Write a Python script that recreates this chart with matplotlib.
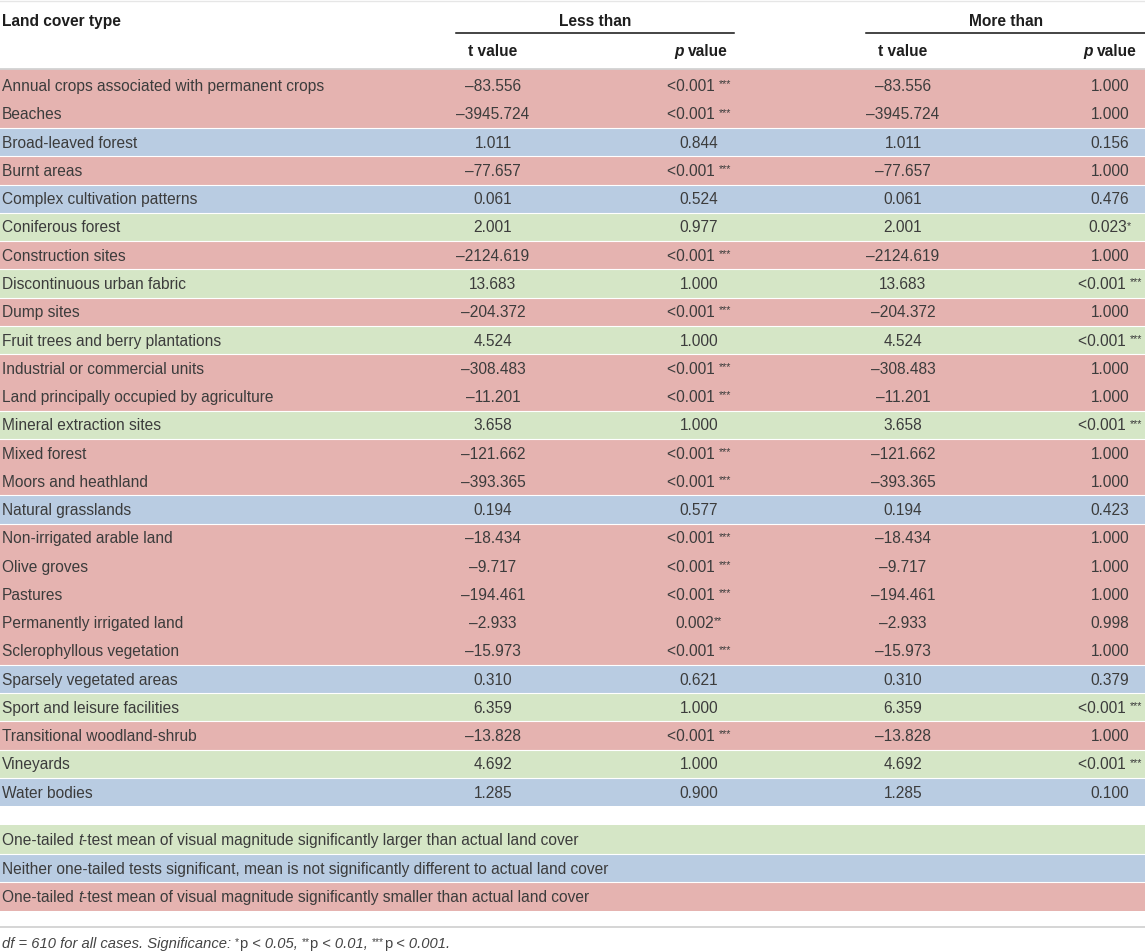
import matplotlib
matplotlib.use("Agg")
import matplotlib.pyplot as plt

# ---------------- data ----------------
land_cover = [
    "Annual crops associated with permanent crops", "Beaches", "Broad-leaved forest",
    "Burnt areas", "Complex cultivation patterns", "Coniferous forest",
    "Construction sites", "Discontinuous urban fabric", "Dump sites",
    "Fruit trees and berry plantations", "Industrial or commercial units",
    "Land principally occupied by agriculture", "Mineral extraction sites",
    "Mixed forest", "Moors and heathland", "Natural grasslands",
    "Non-irrigated arable land", "Olive groves", "Pastures",
    "Permanently irrigated land", "Sclerophyllous vegetation",
    "Sparsely vegetated areas", "Sport and leisure facilities",
    "Transitional woodland-shrub", "Vineyards", "Water bodies",
]
category = ["R", "R", "B", "R", "B", "G", "R", "G", "R", "G", "R", "R", "G",
            "R", "R", "B", "R", "R", "R", "R", "R", "B", "G", "R", "G", "B"]
t_values = [-83.556, -3945.724, 1.011, -77.657, 0.061, 2.001, -2124.619, 13.683,
            -204.372, 4.524, -308.483, -11.201, 3.658, -121.662, -393.365, 0.194,
            -18.434, -9.717, -194.461, -2.933, -15.973, 0.310, 6.359, -13.828,
            4.692, 1.285]
less_p = ["<0.001", "<0.001", "0.844", "<0.001", "0.524", "0.977", "<0.001", "1.000",
          "<0.001", "1.000", "<0.001", "<0.001", "1.000", "<0.001", "<0.001", "0.577",
          "<0.001", "<0.001", "<0.001", "0.002", "<0.001", "0.621", "1.000", "<0.001",
          "1.000", "0.900"]
less_sig = ["***", "***", "", "***", "", "", "***", "", "***", "", "***", "***", "",
            "***", "***", "", "***", "***", "***", "**", "***", "", "", "***", "", ""]
more_p = ["1.000", "1.000", "0.156", "1.000", "0.476", "0.023", "1.000", "<0.001",
          "1.000", "<0.001", "1.000", "1.000", "<0.001", "1.000", "1.000", "0.423",
          "1.000", "1.000", "1.000", "0.998", "1.000", "0.379", "<0.001", "1.000",
          "<0.001", "0.100"]
more_sig = ["", "", "", "", "", "*", "", "***", "", "***", "", "", "***", "", "", "",
            "", "", "", "", "", "", "***", "", "***", ""]
legend_cats = ["G", "B", "R"]
legend_text = [
    [("One-tailed ", "n"), ("t", "i"), ("-test mean of visual magnitude significantly larger than actual land cover", "n")],
    [("Neither one-tailed tests significant, mean is not significantly different to actual land cover", "n")],
    [("One-tailed ", "n"), ("t", "i"), ("-test mean of visual magnitude significantly smaller than actual land cover", "n")],
]
group_headers = ["Less than", "More than"]

# ---------------- style ----------------
colors = {"R": "#E5B3B0", "B": "#B9CCE2", "G": "#D5E6C6"}
FONT = ["Liberation Sans", "DejaVu Sans"]
TXT = "#3c3c3c"
HDR = "#1e1e1e"
FS = 11.2
W, H = 1145, 952

fig = plt.figure(figsize=(W / 100, H / 100), dpi=100)
ax = fig.add_axes([0, 0, 1, 1])
ax.set_xlim(0, W)
ax.set_ylim(H, 0)
ax.axis("off")
renderer = fig.canvas.get_renderer()


def style(kind, size=FS, color=TXT):
    d = dict(family=FONT, fontsize=size, color=color)
    if kind == "i":
        d["style"] = "italic"
    elif kind == "b":
        d["weight"] = "bold"
    elif kind == "bi":
        d["weight"] = "bold"
        d["style"] = "italic"
    return d


def adv(s, kw):
    t1 = ax.text(0, 0, "|" + s + "|", **kw)
    w1 = t1.get_window_extent(renderer).width
    t1.remove()
    t2 = ax.text(0, 0, "||", **kw)
    w2 = t2.get_window_extent(renderer).width
    t2.remove()
    return w1 - w2


def draw_runs(runs, x, yc, ha="left", size=FS, color=TXT):
    # runs: (text, kind) ; kind 'n','i','b','bi','sup'
    em = size * 100 / 72
    base = yc + em * 0.36
    items = []
    for s, kind in runs:
        if kind.startswith("sup"):
            kw = style(kind[3:] or "n", size=size * 0.7, color=color)
            dy = -em * 0.24
        else:
            kw = style(kind, size=size, color=color)
            dy = 0
        items.append((s, kw, dy, adv(s, kw)))
    total = sum(it[3] for it in items)
    if ha == "center":
        x0 = x - total / 2
    elif ha == "right":
        x0 = x - total
    else:
        x0 = x
    for s, kw, dy, w in items:
        ax.text(x0, base + dy, s, ha="left", va="baseline", **kw)
        x0 += w


def fmt_t(v):
    return f"{v:.3f}".replace("-", "\u2013")


# ---------------- layout ----------------
n = len(land_cover)
row0, pitch = 85.6, 28.26
rows_y = [row0 + pitch * i for i in range(n)]
col_t1, col_p1, col_t2, col_p2 = 493, 699, 903, 1110

# row bands
ax.barh(rows_y, [W] * n, height=pitch, left=0,
        color=[colors[c] for c in category], edgecolor="none")
ax.barh([(69.2 + rows_y[0] - pitch / 2) / 2], [W], height=rows_y[0] - pitch / 2 - 69.2 + 0.5,
        left=0, color=colors[category[0]], edgecolor="none")
for i in range(1, n):
    if category[i] != category[i - 1]:
        ax.plot([0, W], [rows_y[i] - pitch / 2] * 2, color="white", lw=0.8)

# legend bands
leg_y = [839.5, 868.0, 896.5]
ax.barh(leg_y, [W] * 3, height=28.5, left=0,
        color=[colors[c] for c in legend_cats], edgecolor="none")
for k in (1, 2):
    ax.plot([0, W], [leg_y[k] - 14.25] * 2, color="white", lw=0.8)

# rules
ax.plot([0, W], [1, 1], color="#e6e6e6", lw=1.0)
ax.plot([456, 734], [33, 33], color="#111111", lw=1.1)
ax.plot([866, W], [33, 33], color="#111111", lw=1.1)
ax.plot([0, W], [68.5, 68.5], color="#d2d2d2", lw=1.3)
ax.plot([0, W], [927, 927], color="#d2d2d2", lw=1.3)

# headers
draw_runs([("Land cover type", "b")], 2, 20, color=HDR)
draw_runs([(group_headers[0], "b")], 595, 20, ha="center", color=HDR)
draw_runs([(group_headers[1], "b")], 1006, 20, ha="center", color=HDR)
draw_runs([("t value", "b")], col_t1, 50, ha="center", color=HDR)
draw_runs([("p ", "bi"), ("value", "b")], 701, 50, ha="center", color=HDR)
draw_runs([("t value", "b")], col_t2, 50, ha="center", color=HDR)
draw_runs([("p ", "bi"), ("value", "b")], 1110, 50, ha="center", color=HDR)

# body
for i in range(n):
    y = rows_y[i]
    draw_runs([(land_cover[i], "n")], 2, y)
    draw_runs([(fmt_t(t_values[i]), "n")], col_t1, y, ha="center")
    draw_runs([(fmt_t(t_values[i]), "n")], col_t2, y, ha="center")
    for p, sig, cx in ((less_p[i], less_sig[i], col_p1), (more_p[i], more_sig[i], col_p2)):
        if sig:
            main = p + " " if p.startswith("<") else p
            draw_runs([(main, "n"), (sig, "sup")], cx, y, ha="center")
        else:
            draw_runs([(p, "n")], cx, y, ha="center")

# legend text
for k in range(3):
    draw_runs(legend_text[k], 2, leg_y[k])

# footnote
foot = [("df = 610 for all cases. Significance: ", "i"), ("*", "sup"), ("p", "n"),
        (" < 0.05, ", "i"), ("**", "sup"), ("p", "n"), (" < 0.01, ", "i"),
        ("***", "sup"), ("p", "n"), (" < 0.001.", "i")]
draw_runs(foot, 2, 943, size=10.6, color="#444444")

fig.savefig("out.png", dpi=100)
